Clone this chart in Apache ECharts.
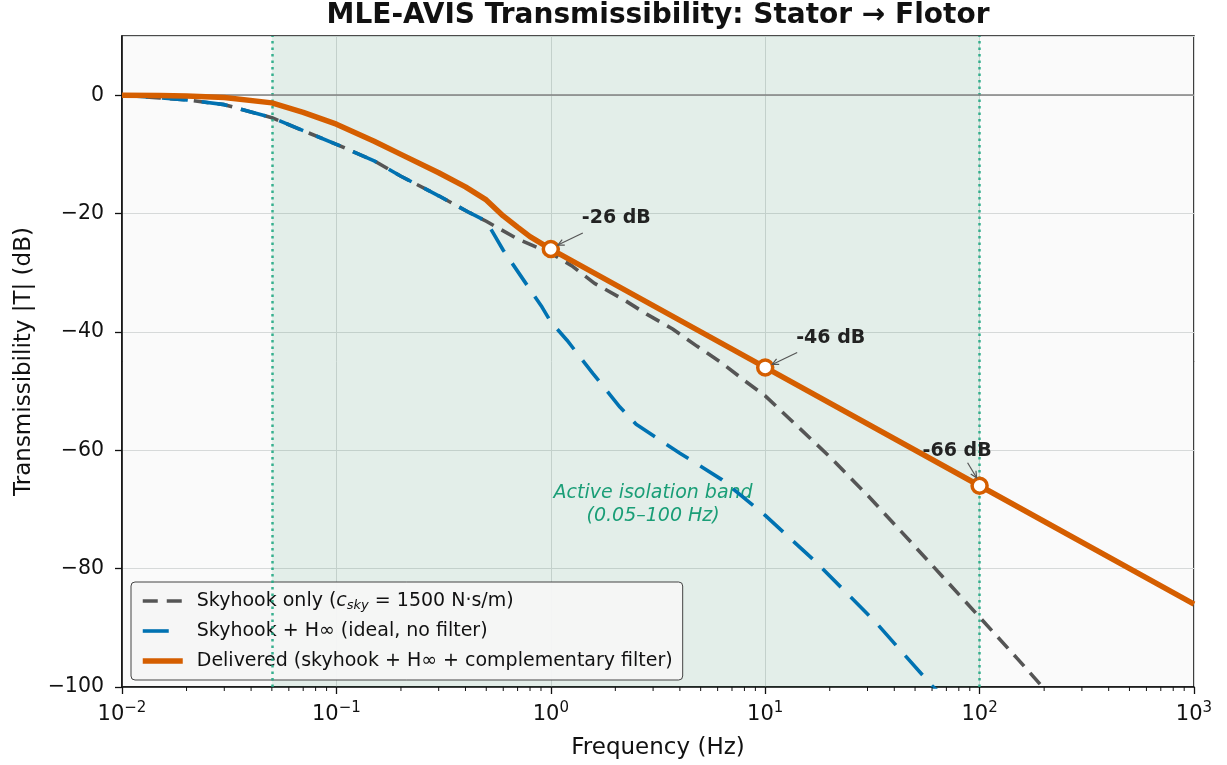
<!DOCTYPE html>
<html>
<head>
<meta charset="utf-8">
<script src="https://cdn.jsdelivr.net/npm/echarts@6/dist/echarts.min.js"></script>
<style>html,body{margin:0;padding:0;background:#fff}#c{width:1227px;height:765px}</style>
</head>
<body>
<div id="c"></div>
<script>
// ---- data ----
const freqSkyhook = [0.01,0.015,0.02,0.03,0.05,0.07,0.1,0.15,0.2,0.3,0.42,0.5,0.7,1,1.25,1.6,2.2,2.8,3.7,4.8,6.3,8.2,10,14,20,30,43,60,100,150,200];
const dbSkyhook   = [0,-0.45,-0.8,-1.6,-3.8,-6.0,-8.3,-11.1,-13.7,-17.0,-19.9,-21.3,-24.3,-26.7,-28.8,-31.8,-34.6,-37.0,-39.5,-42.4,-45.3,-48.5,-50.8,-55.8,-61.1,-67.6,-73.7,-79.4,-88.2,-95.2,-100.3];

const freqHinf = [0.01,0.015,0.02,0.03,0.05,0.07,0.1,0.15,0.2,0.3,0.42,0.5,0.6,0.91,1,1.19,1.57,2.1,2.5,3,4,6.3,10,17.5,33,60,65];
const dbHinf   = [0,-0.45,-0.8,-1.6,-3.8,-6.0,-8.3,-11.1,-13.7,-17.0,-19.9,-21.3,-26.2,-35.8,-38.3,-41.4,-47.0,-52.7,-55.6,-57.5,-60.5,-65.0,-71.0,-79.1,-89.2,-99.8,-101];

const freqDelivered = [0.01,0.015,0.02,0.03,0.05,0.07,0.1,0.15,0.2,0.3,0.4,0.5,0.6,0.7,0.8,1,10,100,1000];
const dbDelivered   = [0,-0.05,-0.15,-0.4,-1.3,-2.9,-4.9,-7.8,-10.0,-13.1,-15.5,-17.7,-20.4,-22.3,-23.9,-26,-46,-66,-86];

const markerFreq = [1,10,100];
const markerDb   = [-26,-46,-66];
const markerLabels = ['-26 dB','-46 dB','-66 dB'];

const bandRange = [0.05,100];
const bandText = 'Active isolation band\n(0.05\u2013100 Hz)';
const bandTextAnchor = [3,-69.2];

const seriesNames = ['Skyhook only','Skyhook + H\u221e (ideal, no filter)','Delivered (skyhook + H\u221e + complementary filter)'];
const titleText = 'MLE-AVIS Transmissibility: Stator \u2192 Flotor';
const xName = 'Frequency (Hz)';
const yName = 'Transmissibility |T| (dB)';

// ---- helpers ----
const zip = (a,b) => a.map((v,i)=>[v,b[i]]);
const FONT = 'DejaVu Sans';
const ORANGE = '#D55E00', BLUE = '#0072B2', GRAY = '#555555', GREEN = '#1a9e77';

// minor tick positions (2..9 x 10^k) generated from the axis range
const minorTicks = [];
for (let k=-2;k<3;k++) for (let m=2;m<10;m++) minorTicks.push([m*Math.pow(10,k), -100]);

// annotation placement (pixel offsets relative to the marker)
const annotLayout = [
  {tx:31, ty:-31, a:[32,-16,7,-4]},
  {tx:31, ty:-29, a:[32,-15,7,-3]},
  {tx:-57,ty:-35, a:[-12,-23,-3,-8]}
];

const chart = echarts.init(document.getElementById('c'), null, {renderer:'canvas'});

const sup = v => {
  const e = Math.round(Math.log10(v));
  return '{b|10}{s|' + String(e).replace('-','\u2212') + '}';
};

const option = {
  animation:false,
  backgroundColor:'#ffffff',
  graphic:[{
    type:'text', x:658, y:16,
    style:{text:titleText, font:'bold 28px "DejaVu Sans"', fill:'#111', align:'center', verticalAlign:'middle'}
  }],
  grid:{left:122,right:33,top:36,bottom:78,show:true,backgroundColor:'#fafafa',borderColor:'#111',borderWidth:1.6},
  legend:{
    left:131, top:582, orient:'vertical',
    padding:[6,10,6,9], itemGap:4, itemWidth:40, itemHeight:14,
    backgroundColor:'rgba(245,245,245,0.95)', borderColor:'#444', borderWidth:1, borderRadius:4,
    data:seriesNames,
    itemStyle:{opacity:0},
    lineStyle:{width:'inherit',type:'inherit'},
    formatter: name => name === seriesNames[0] ? 'Skyhook only ({i|c}{sb|sky} = 1500 N\u00b7s/m)' : name,
    textStyle:{fontFamily:FONT,fontSize:19,color:'#111',lineHeight:26,padding:[0,0,0,9],
      rich:{i:{fontFamily:FONT,fontSize:19,fontStyle:'italic',color:'#111'},
            sb:{fontFamily:FONT,fontSize:13,fontStyle:'italic',color:'#111',padding:[10,0,0,0]}}}
  },
  xAxis:{
    type:'log', logBase:10, min:0.01, max:1000,
    name:xName, nameLocation:'middle', nameGap:50,
    nameTextStyle:{fontFamily:FONT,fontSize:23,color:'#111'},
    axisLine:{show:true,onZero:false,lineStyle:{color:'#111',width:1.6}},
    axisTick:{show:true,length:7,lineStyle:{color:'#111',width:1.3}},
    minorTick:{show:false},
    splitLine:{show:true,lineStyle:{color:'#d6d9d9',width:1}},
    axisLabel:{margin:14,formatter:sup,
      rich:{b:{fontFamily:FONT,fontSize:21,color:'#111',lineHeight:28},
            s:{fontFamily:FONT,fontSize:15,color:'#111',padding:[0,0,13,0]}}}
  },
  yAxis:{
    type:'value', min:-100, max:10, interval:20,
    name:yName, nameLocation:'middle', nameGap:86,
    nameTextStyle:{fontFamily:FONT,fontSize:23,color:'#111'},
    axisLine:{show:true,onZero:false,lineStyle:{color:'#111',width:1.6}},
    axisTick:{show:true,length:7,lineStyle:{color:'#111',width:1.3}},
    splitLine:{show:true,lineStyle:{color:'#d6d9d9',width:1}},
    axisLabel:{margin:18,fontFamily:FONT,fontSize:20.5,color:'#111',showMaxLabel:false,
      formatter: v => v>0 ? '' : String(v).replace('-','\u2212')}
  },
  series:[
    {
      name:'band', type:'line', data:[], silent:true, z:1,
      markArea:{silent:true,itemStyle:{color:'rgba(30,140,90,0.1)'},data:[[{xAxis:bandRange[0]},{xAxis:bandRange[1]}]]},
      markLine:{silent:true,symbol:'none',label:{show:false},
        data:[
          {xAxis:bandRange[0],lineStyle:{color:'#22a884',type:[2.5,4],width:2.5,opacity:0.9}},
          {xAxis:bandRange[1],lineStyle:{color:'#22a884',type:[2.5,4],width:2.5,opacity:0.9}},
          {yAxis:0,lineStyle:{color:'#808080',type:'solid',width:1.5}}
        ]}
    },
    {
      name:'bandText', type:'custom', silent:true, z:3,
      data:[bandTextAnchor],
      renderItem:(params,api)=>{
        const p = api.coord([api.value(0),api.value(1)]);
        return {type:'text',x:p[0],y:p[1],style:{text:bandText,font:'italic 19px "DejaVu Sans"',fill:GREEN,align:'center',verticalAlign:'middle',lineHeight:23}};
      }
    },
    {
      name:seriesNames[0], type:'line', data:zip(freqSkyhook,dbSkyhook), showSymbol:false, symbol:'none',
      lineStyle:{color:GRAY,width:3.6,type:[15,9],cap:'butt'}, itemStyle:{color:GRAY}, z:4, clip:true
    },
    {
      name:seriesNames[1], type:'line', data:zip(freqHinf,dbHinf), showSymbol:false, symbol:'none',
      lineStyle:{color:BLUE,width:3.6,type:[26,14],cap:'butt'}, itemStyle:{color:BLUE}, z:5, clip:true
    },
    {
      name:seriesNames[2], type:'line', data:zip(freqDelivered,dbDelivered), showSymbol:false, symbol:'none',
      lineStyle:{color:ORANGE,width:5.5}, itemStyle:{color:ORANGE}, z:6, clip:true
    },
    {
      name:'markers', type:'scatter', data:zip(markerFreq,markerDb), symbol:'circle', symbolSize:15, z:8,
      itemStyle:{color:'#ffffff',borderColor:ORANGE,borderWidth:3.5,opacity:1}
    },
    {
      name:'annotations', type:'custom', z:9, silent:true,
      data:zip(markerFreq,markerDb),
      renderItem:(params,api)=>{
        const p = api.coord([api.value(0),api.value(1)]);
        const o = annotLayout[params.dataIndex];
        const x1=p[0]+o.a[0], y1=p[1]+o.a[1], x2=p[0]+o.a[2], y2=p[1]+o.a[3];
        const ang = Math.atan2(y2-y1,x2-x1), L=7, w=0.45;
        const h1=[x2-L*Math.cos(ang-w), y2-L*Math.sin(ang-w)];
        const h2=[x2-L*Math.cos(ang+w), y2-L*Math.sin(ang+w)];
        return {type:'group',children:[
          {type:'text',x:p[0]+o.tx,y:p[1]+o.ty,style:{text:markerLabels[params.dataIndex],font:'bold 19px "DejaVu Sans"',fill:'#222',align:'left',verticalAlign:'middle'}},
          {type:'line',shape:{x1,y1,x2,y2},style:{stroke:'#555',lineWidth:1.2}},
          {type:'polyline',shape:{points:[h1,[x2,y2],h2]},style:{stroke:'#555',lineWidth:1.2,fill:null}}
        ]};
      }
    },
    {
      name:'minorTicks', type:'custom', silent:true, z:10, clip:false,
      data:minorTicks,
      renderItem:(params,api)=>{
        const p = api.coord([api.value(0),api.value(1)]);
        return {type:'line',shape:{x1:p[0],y1:p[1],x2:p[0],y2:p[1]+4},style:{stroke:'#111',lineWidth:1}};
      }
    }
  ]
};
chart.setOption(option);
</script>
</body>
</html>
